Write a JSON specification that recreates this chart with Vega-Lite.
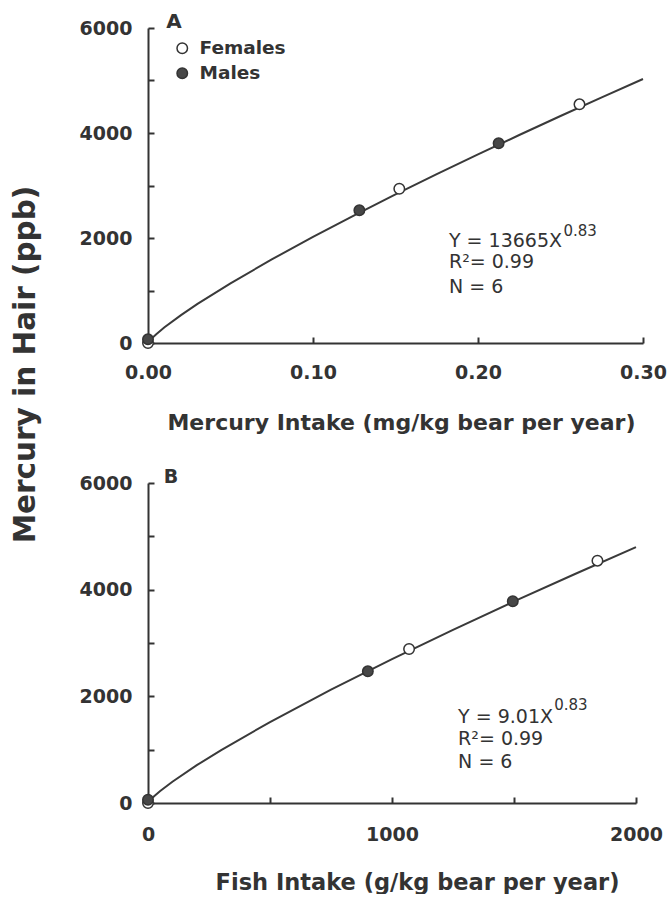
{
  "$schema": "https://vega.github.io/schema/vega-lite/v6.json",
  "padding": {"left": 10, "top": 12, "right": 0, "bottom": 0},
  "background": "white",
  "bounds": "flush",
  "spacing": 140,
  "config": {
    "view": {"stroke": null},
    "axis": {
      "domainColor": "#333333", "domainWidth": 2,
      "tickColor": "#333333", "tickWidth": 2, "tickSize": -6,
      "labelFont": "DejaVu Sans", "labelFontWeight": "bold", "labelFontSize": 19, "labelColor": "#333333",
      "titleFont": "DejaVu Sans", "titleFontWeight": "bold", "titleFontSize": 22, "titleColor": "#333333",
      "grid": false, "labelFlush": false, "labelOverlap": false
    },
    "text": {"font": "DejaVu Sans", "color": "#333333"}
  },
  "datasets": {
    "curveA": [
      {"x": 0, "y": 0}, {"x": 0.002, "y": 79}, {"x": 0.005, "y": 168}, {"x": 0.01, "y": 299},
      {"x": 0.02, "y": 531}, {"x": 0.03, "y": 744}, {"x": 0.05, "y": 1137}, {"x": 0.075, "y": 1592},
      {"x": 0.1, "y": 2021}, {"x": 0.125, "y": 2433}, {"x": 0.15, "y": 2830}, {"x": 0.175, "y": 3216},
      {"x": 0.2, "y": 3593}, {"x": 0.225, "y": 3962}, {"x": 0.25, "y": 4324}, {"x": 0.275, "y": 4680},
      {"x": 0.3, "y": 5029}
    ],
    "pointsA": [
      {"x": 0, "y": 0, "sex": "Females"},
      {"x": 0.1523, "y": 2939, "sex": "Females"},
      {"x": 0.2615, "y": 4546, "sex": "Females"},
      {"x": 0, "y": 70, "sex": "Males"},
      {"x": 0.1281, "y": 2527, "sex": "Males"},
      {"x": 0.2125, "y": 3803, "sex": "Males"}
    ],
    "textA": [
      {"x": 0.1824, "y": 1829, "t": "Y = 13665X"},
      {"x": 0.1824, "y": 1434, "t": "R²= 0.99"},
      {"x": 0.1824, "y": 958, "t": "N = 6"}
    ],
    "supA": [{"x": 0.2518, "y": 2038, "t": "0.83"}],
    "labelA": [{"x": 0.011, "y": 6000, "t": "A"}],
    "curveB": [
      {"x": 0, "y": 0}, {"x": 10, "y": 59}, {"x": 25, "y": 126}, {"x": 50, "y": 224},
      {"x": 100, "y": 399}, {"x": 200, "y": 709}, {"x": 300, "y": 993}, {"x": 500, "y": 1518},
      {"x": 750, "y": 2125}, {"x": 1000, "y": 2698}, {"x": 1250, "y": 3247}, {"x": 1500, "y": 3779},
      {"x": 1750, "y": 4294}, {"x": 2000, "y": 4798}
    ],
    "pointsB": [
      {"x": 0, "y": 0, "sex": "Females"},
      {"x": 1070, "y": 2888, "sex": "Females"},
      {"x": 1842, "y": 4544, "sex": "Females"},
      {"x": 0, "y": 60, "sex": "Males"},
      {"x": 901, "y": 2469, "sex": "Males"},
      {"x": 1495, "y": 3782, "sex": "Males"}
    ],
    "textB": [
      {"x": 1271, "y": 1500, "t": "Y = 9.01X"},
      {"x": 1271, "y": 1082, "t": "R²= 0.99"},
      {"x": 1271, "y": 656, "t": "N = 6"}
    ],
    "supB": [{"x": 1665, "y": 1750, "t": "0.83"}],
    "labelB": [{"x": 65, "y": 6000, "t": "B"}]
  },
  "resolve": {"scale": {"fill": "independent"}, "legend": {"fill": "independent"}},
  "vconcat": [
    {
      "width": 495,
      "height": 315,
      "layer": [
        {
          "data": {"name": "curveA"},
          "mark": {"type": "line", "color": "#3a3a3a", "strokeWidth": 2, "clip": false},
          "encoding": {
            "x": {"field": "x", "type": "quantitative", "scale": {"domain": [0, 0.3], "nice": false},
              "axis": {"values": [0, 0.1, 0.2, 0.3], "format": ".2f", "labelPadding": 26,
                "title": "Mercury Intake (mg/kg bear per year)", "titleY": 86, "titleX": 253, "titleBaseline": "alphabetic", "titleAnchor": null}},
            "y": {"field": "y", "type": "quantitative", "scale": {"domain": [0, 6000], "nice": false},
              "axis": {"values": [0, 1000, 2000, 3000, 4000, 5000, 6000], "format": "d", "labelPadding": 22,
                "labelExpr": "datum.value % 2000 === 0 ? datum.label : ''",
                "title": "Mercury in Hair (ppb)", "titleFontSize": 29.5, "titleAngle": -90,
                "titleX": -114, "titleY": 336, "titleAlign": "center", "titleBaseline": "alphabetic"}}
          }
        },
        {
          "data": {"name": "pointsA"},
          "mark": {"type": "point", "shape": "circle", "filled": true, "size": 110, "stroke": "#333333", "strokeWidth": 1.5, "opacity": 1, "clip": false},
          "encoding": {
            "x": {"field": "x", "type": "quantitative"},
            "y": {"field": "y", "type": "quantitative"},
            "fill": {"field": "sex", "type": "nominal",
              "scale": {"domain": ["Females", "Males"], "range": ["#ffffff", "#474747"]},
              "legend": {"orient": "none", "legendX": 25, "legendY": 11, "title": null, "padding": 0,
                "labelFont": "DejaVu Sans", "labelFontWeight": "bold", "labelFontSize": 18.5, "labelColor": "#333333",
                "symbolType": "circle", "symbolSize": 110, "symbolStrokeColor": "#333333", "symbolStrokeWidth": 1.5,
                "rowPadding": 6, "labelOffset": 8}}
          }
        },
        {
          "data": {"name": "textA"},
          "mark": {"type": "text", "align": "left", "baseline": "alphabetic", "fontSize": 19, "clip": false},
          "encoding": {
            "x": {"field": "x", "type": "quantitative"},
            "y": {"field": "y", "type": "quantitative"},
            "text": {"field": "t"}
          }
        },
        {
          "data": {"name": "supA"},
          "mark": {"type": "text", "align": "left", "baseline": "alphabetic", "fontSize": 15, "clip": false},
          "encoding": {
            "x": {"field": "x", "type": "quantitative"},
            "y": {"field": "y", "type": "quantitative"},
            "text": {"field": "t"}
          }
        },
        {
          "data": {"name": "labelA"},
          "mark": {"type": "text", "align": "left", "baseline": "alphabetic", "fontSize": 20, "fontWeight": "bold", "clip": false},
          "encoding": {
            "x": {"field": "x", "type": "quantitative"},
            "y": {"field": "y", "type": "quantitative"},
            "text": {"field": "t"}
          }
        }
      ]
    },
    {
      "width": 488,
      "height": 320,
      "layer": [
        {
          "data": {"name": "curveB"},
          "mark": {"type": "line", "color": "#3a3a3a", "strokeWidth": 2, "clip": false},
          "encoding": {
            "x": {"field": "x", "type": "quantitative", "scale": {"domain": [0, 2000], "nice": false},
              "axis": {"values": [0, 500, 1000, 1500, 2000], "format": "d", "labelPadding": 28,
                "labelExpr": "datum.value % 1000 === 0 ? datum.label : ''",
                "title": "Fish Intake (g/kg bear per year)", "titleFontSize": 22.5, "titleY": 86, "titleX": 269, "titleBaseline": "alphabetic", "titleAnchor": null}},
            "y": {"field": "y", "type": "quantitative", "scale": {"domain": [0, 6000], "nice": false},
              "axis": {"values": [0, 1000, 2000, 3000, 4000, 5000, 6000], "format": "d", "labelPadding": 22,
                "labelExpr": "datum.value % 2000 === 0 ? datum.label : ''", "title": null}}
          }
        },
        {
          "data": {"name": "pointsB"},
          "mark": {"type": "point", "shape": "circle", "filled": true, "size": 110, "stroke": "#333333", "strokeWidth": 1.5, "opacity": 1, "clip": false},
          "encoding": {
            "x": {"field": "x", "type": "quantitative"},
            "y": {"field": "y", "type": "quantitative"},
            "fill": {"field": "sex", "type": "nominal",
              "scale": {"domain": ["Females", "Males"], "range": ["#ffffff", "#474747"]},
              "legend": null}
          }
        },
        {
          "data": {"name": "textB"},
          "mark": {"type": "text", "align": "left", "baseline": "alphabetic", "fontSize": 19, "clip": false},
          "encoding": {
            "x": {"field": "x", "type": "quantitative"},
            "y": {"field": "y", "type": "quantitative"},
            "text": {"field": "t"}
          }
        },
        {
          "data": {"name": "supB"},
          "mark": {"type": "text", "align": "left", "baseline": "alphabetic", "fontSize": 15, "clip": false},
          "encoding": {
            "x": {"field": "x", "type": "quantitative"},
            "y": {"field": "y", "type": "quantitative"},
            "text": {"field": "t"}
          }
        },
        {
          "data": {"name": "labelB"},
          "mark": {"type": "text", "align": "left", "baseline": "alphabetic", "fontSize": 19, "fontWeight": "bold", "clip": false},
          "encoding": {
            "x": {"field": "x", "type": "quantitative"},
            "y": {"field": "y", "type": "quantitative"},
            "text": {"field": "t"}
          }
        }
      ]
    }
  ]
}
